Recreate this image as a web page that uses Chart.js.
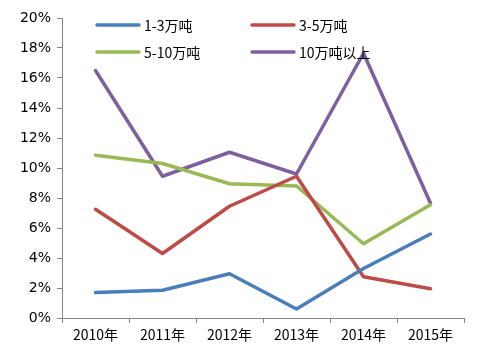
<!DOCTYPE html>
<html><head><meta charset="utf-8">
<script src="https://cdn.jsdelivr.net/npm/chart.js@4/dist/chart.umd.min.js"></script>
<style>html,body{margin:0;padding:0;background:#fff}#w{width:480px;height:356px}</style>
</head><body><div id="w"><canvas id="c"></canvas></div>
<script>
const categories = ["2010年","2011年","2012年","2013年","2014年","2015年"];
const s1_3 = [1.7, 1.85, 2.95, 0.6, 3.3, 5.6];
const s3_5 = [7.25, 4.3, 7.45, 9.45, 2.75, 1.95];
const s5_10 = [10.85, 10.3, 8.95, 8.8, 4.95, 7.55];
const s10up = [16.5, 9.45, 11.05, 9.6, 17.65, 7.65];
const seriesNames = ["1-3万吨","3-5万吨","5-10万吨","10万吨以上"];
const yTicks = [0,2,4,6,8,10,12,14,16,18,20];
const colors = ["#4a7ebb","#be4b48","#98b954","#7d60a0"];

const legendPlugin = {
  id: 'customLegend',
  afterDraw(chart) {
    const ctx = chart.ctx;
    const pos = [[97,25],[252,25],[97,52],[252,52]];
    ctx.save();
    chart.data.datasets.forEach((ds, i) => {
      const [x, y] = pos[i];
      ctx.strokeStyle = ds.borderColor;
      ctx.lineWidth = 3.5;
      ctx.lineCap = 'round';
      ctx.beginPath(); ctx.moveTo(x, y); ctx.lineTo(x + 42, y); ctx.stroke();
      ctx.fillStyle = '#000';
      ctx.font = '14px "Noto Sans CJK SC"';
      ctx.textBaseline = 'middle';
      ctx.fillText(ds.label, x + 47, y + 1);
    });
    ctx.restore();
  }
};

const data = [s1_3, s3_5, s5_10, s10up];
new Chart(document.getElementById('c'), {
  type: 'line',
  data: {
    labels: categories,
    datasets: data.map((d, i) => ({
      label: seriesNames[i], data: d, borderColor: colors[i], backgroundColor: colors[i],
      borderWidth: 3.5, pointRadius: 0, tension: 0, borderCapStyle: 'round', borderJoinStyle: 'round'
    }))
  },
  options: {
    responsive: true, maintainAspectRatio: false, animation: false,
    layout: { padding: { top: 18, right: 16, left: 0, bottom: 0 } },
    plugins: { legend: { display: false }, tooltip: { enabled: false } },
    scales: {
      x: {
        offset: true,
        grid: { display: true, drawOnChartArea: false, drawTicks: true, tickLength: 5, offset: true, color: '#868686' },
        border: { color: '#868686' },
        ticks: { color: '#000', font: { family: '"Noto Sans CJK SC"', size: 14 }, padding: 3, maxRotation: 0 },
        afterFit(s) { s.height = 38; }
      },
      y: {
        min: 0, max: 20,
        afterBuildTicks(s) { s.ticks = yTicks.map(v => ({ value: v })); },
        grid: { display: true, drawOnChartArea: false, drawTicks: true, tickLength: 5, color: '#868686' },
        border: { color: '#868686' },
        ticks: { color: '#000', font: { family: '"DejaVu Sans"', size: 14 }, padding: 6, callback: v => v + '%' },
        afterFit(s) { s.width = 62; }
      }
    }
  },
  plugins: [legendPlugin]
});
</script></body></html>
